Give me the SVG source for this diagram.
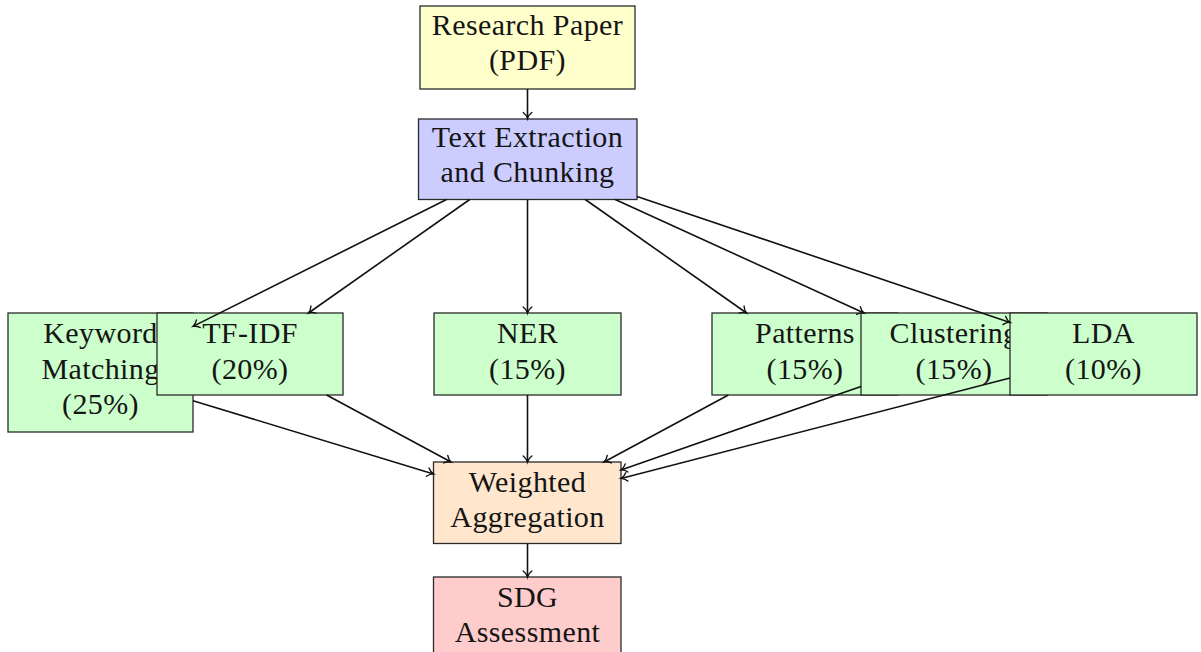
<svg xmlns="http://www.w3.org/2000/svg" width="1201" height="652" viewBox="0 0 1201 652">
  <style>
    .box { stroke: #2a2a2a; stroke-width: 1.3; }
    .yellow { fill: #ffffcc; }
    .blue { fill: #ccccff; }
    .green { fill: #ccffcc; }
    .orange { fill: #ffe6cc; }
    .red { fill: #ffcccc; }
    text { font-family: "Liberation Serif", "Times New Roman", serif; font-size: 30px; letter-spacing: 0.4px; fill: #151515; text-anchor: middle; }
    .edge { stroke: #111; stroke-width: 1.6; fill: none; marker-end: url(#tip); }
  </style>
  <defs>
    <marker id="tip" markerUnits="userSpaceOnUse" viewBox="-7 -6 8 12" markerWidth="8" markerHeight="12" refX="0" refY="0" orient="auto" overflow="visible">
      <path d="M-6,-4.3 C-4,-1.7 -1.5,-0.4 0,0 C-1.5,0.4 -4,1.7 -6,4.3" fill="none" stroke="#111" stroke-width="1.4" stroke-linecap="round"/>
    </marker>
  </defs>

  <g id="research-paper">
    <rect class="box yellow" x="420" y="6" width="215" height="83"/>
    <text x="527.5" y="35">Research Paper</text>
    <text x="527.5" y="70">(PDF)</text>
  </g>

  <g id="text-extraction">
    <rect class="box blue" x="418.5" y="119" width="218.5" height="80.5"/>
    <text x="527.5" y="147">Text Extraction</text>
    <text x="527.5" y="182">and Chunking</text>
  </g>

  <g id="keyword-matching">
    <rect class="box green" x="8" y="313" width="185" height="119"/>
    <text x="100.5" y="343">Keyword</text>
    <text x="100.5" y="379">Matching</text>
    <text x="100.5" y="414">(25%)</text>
  </g>

  <g id="tf-idf">
    <rect class="box green" x="157" y="313" width="186" height="82"/>
    <text x="250" y="343">TF-IDF</text>
    <text x="250" y="379">(20%)</text>
  </g>

  <g id="ner">
    <rect class="box green" x="434" y="313" width="187" height="82"/>
    <text x="527.5" y="343">NER</text>
    <text x="527.5" y="379">(15%)</text>
  </g>

  <g id="patterns">
    <rect class="box green" x="712" y="313" width="186" height="82"/>
    <text x="805" y="343">Patterns</text>
    <text x="805" y="379">(15%)</text>
  </g>

  <g id="clustering">
    <rect class="box green" x="861" y="313" width="186" height="82"/>
    <text x="954" y="343">Clustering</text>
    <text x="954" y="379">(15%)</text>
  </g>

  <g id="lda">
    <rect class="box green" x="1010" y="313" width="187" height="82"/>
    <text x="1103.5" y="343">LDA</text>
    <text x="1103.5" y="379">(10%)</text>
  </g>

  <g id="weighted-aggregation">
    <rect class="box orange" x="433.5" y="462" width="187.5" height="81.5"/>
    <text x="527.5" y="491.5">Weighted</text>
    <text x="527.5" y="526.5">Aggregation</text>
  </g>

  <g id="sdg-assessment">
    <rect class="box red" x="433.5" y="577" width="187.5" height="82"/>
    <text x="527.5" y="606.5">SDG</text>
    <text x="527.5" y="641.5">Assessment</text>
  </g>

  <g id="connectors">
    <line class="edge" x1="527.5" y1="89" x2="527.5" y2="118.5"/>
    <line class="edge" x1="446.5" y1="199.5" x2="193" y2="326.4"/>
    <line class="edge" x1="469.7" y1="199.5" x2="308.5" y2="313"/>
    <line class="edge" x1="527.5" y1="199.5" x2="527.5" y2="313"/>
    <line class="edge" x1="585.3" y1="199.5" x2="746.5" y2="313"/>
    <line class="edge" x1="615.2" y1="199.5" x2="864" y2="313"/>
    <line class="edge" x1="637" y1="196.5" x2="1010" y2="322.4"/>
    <line class="edge" x1="193" y1="400.7" x2="433.5" y2="473.9"/>
    <line class="edge" x1="326.6" y1="395" x2="451" y2="462"/>
    <line class="edge" x1="527.5" y1="395" x2="527.5" y2="462"/>
    <line class="edge" x1="728.4" y1="395" x2="604" y2="462"/>
    <line class="edge" x1="861" y1="386.4" x2="621" y2="469.9"/>
    <line class="edge" x1="1010" y1="378.1" x2="621" y2="478.4"/>
    <line class="edge" x1="527.5" y1="543.5" x2="527.5" y2="577"/>
  </g>
</svg>
